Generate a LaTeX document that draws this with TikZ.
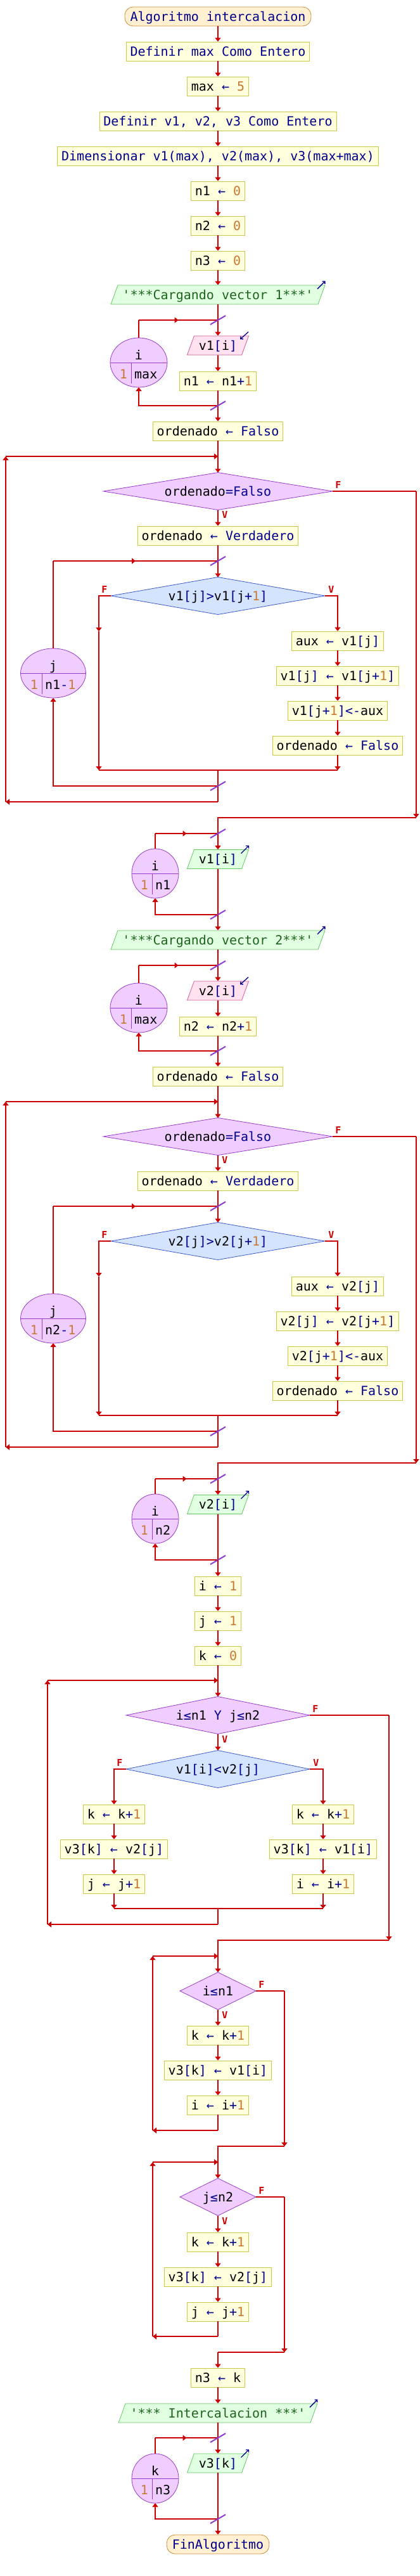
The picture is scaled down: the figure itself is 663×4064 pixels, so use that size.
\documentclass[tikz,border=0pt]{standalone}
\usepackage{fontspec}
\usepackage{xcolor}
\usetikzlibrary{arrows.meta,shapes.geometric,calc,decorations.markings}
\newfontfamily\flowfam{DejaVu Sans Mono}
\newcommand\flowfont{\flowfam\fontsize{20}{24}\selectfont}
\newcommand\lblfont{\flowfam\bfseries\fontsize{15}{18}\selectfont}
\definecolor{lred}{RGB}{204,0,0}
\definecolor{procb}{RGB}{200,200,70}
\definecolor{procf}{RGB}{255,255,221}
\definecolor{termb}{RGB}{204,140,60}
\definecolor{termf}{RGB}{255,240,210}
\definecolor{outb}{RGB}{100,200,100}
\definecolor{outf}{RGB}{225,255,225}
\definecolor{inb}{RGB}{210,90,150}
\definecolor{inf}{RGB}{255,225,240}
\definecolor{wdb}{RGB}{150,60,200}
\definecolor{wdf}{RGB}{240,205,255}
\definecolor{idb}{RGB}{60,90,200}
\definecolor{idf}{RGB}{212,228,255}
\definecolor{slc}{RGB}{140,60,210}
\definecolor{kwc}{RGB}{0,0,140}
\definecolor{numc}{RGB}{200,120,50}
\definecolor{strc}{RGB}{30,100,30}
\newcommand\Kw[1]{\textcolor{kwc}{#1}}
\newcommand\Nu[1]{\textcolor{numc}{#1}}
\newcommand\Sg[1]{\textcolor{strc}{#1}}
\newcommand\Ar{\textcolor{kwc}{←}}
\newcommand\Q{\textquotesingle}
\tikzset{
 ln/.style={draw=lred, color=lred, line width=2pt},
 ar/.style={ln, -{Triangle[width=9pt,length=6pt]}},
 midar/.style={ln, postaction={decorate}, decoration={markings, mark=at position 0.5 with {\arrow{Triangle[width=9pt,length=6pt]}}}},
 proc/.style={draw=procb, fill=procf, line width=0.8pt, font=\flowfont, text height=17.3pt, text depth=2.7pt, inner ysep=5pt, inner xsep=6.3pt, text=black},
 term/.style={proc, draw=termb, fill=termf, rounded corners=13pt, inner xsep=8.5pt},
 outp/.style={trapezium, trapezium left angle=70, trapezium right angle=110, draw=outb, fill=outf, line width=0.8pt, font=\flowfont, text height=17.3pt, text depth=2.7pt, inner ysep=5pt, inner xsep=7.5pt},
 inp/.style={outp, draw=inb, fill=inf},
 dtxt/.style={font=\flowfont, text height=17.3pt, text depth=2.7pt, inner sep=0pt},
 wdia/.style={draw=wdb, fill=wdf, line width=0.8pt},
 idia/.style={draw=idb, fill=idf, line width=0.8pt},
 loopc/.style={draw=wdb, fill=wdf, line width=0.8pt},
 sl/.style={draw=slc, line width=2pt},
 lbl/.style={font=\lblfont, text=lred, inner sep=0pt},
 oarr/.style={draw=kwc, line width=1.3pt, -{Straight Barb[length=3pt,width=6pt]}},
}
% diamond: name, cy, half width, style, text
\newcommand\dia[5]{%
 \path[#4] (344-#3,#2) coordinate (#1w) -- (344,#2-29.5) coordinate (#1n) -- (344+#3,#2) coordinate (#1e) -- (344,#2+29.5) coordinate (#1s) -- cycle;
 \node[dtxt] (#1) at (344,#2) {#5};}
% for circle: name, cx, cy, rx, divider x, var, from, to
\newcommand\forc[8]{%
 \path[loopc] (#2,#3) ellipse [x radius=#4, y radius=39];
 \draw[draw=wdb, line width=0.8pt] (#2-#4,#3) -- (#2+#4,#3) (#5,#3) -- (#5,#3+33);
 \node[dtxt] (#1) at (#2,#3-12) {#6};
 \node[dtxt, anchor=east] (#1a) at (#5-6,#3+18) {#7};
 \node[dtxt, anchor=west] (#1b) at (#5+5,#3+18) {#8};
 \coordinate (#1t) at (#2,#3-39);
 \coordinate (#1u) at (#2,#3+39);}
\newcommand\lcut[1]{\draw[sl] ($(#1)+(-12,7)$) -- ($(#1)+(12,-7)$);}
\newcommand\oarrow[1]{\draw[oarr] ($(#1.top right corner)+(-12.5,6.3)$) -- ($(#1.top right corner)+(0,-6.3)$);}
\newcommand\iarrow[1]{\draw[oarr] ($(#1.top right corner)+(-1,-6)$) -- ($(#1.top right corner)+(-14,5.7)$);}
\newcommand\sortblock[2]{%
\begin{scope}[shift={(0,#2)}]
\node[outp] (out#1) at (344,465) {\Sg{\Q***Cargando vector #1***\Q}};
\oarrow{out#1}
\coordinate (ja#1) at (344,505);
\node[inp] (in#1) at (344,545) {v#1\Kw{[}i\Kw{]}};
\iarrow{in#1}
\forc{fa#1}{219}{572}{45}{207}{i}{\Nu{1}}{max}
\node[proc] (inc#1) at (344,601) {n#1 \Ar{} n#1\Kw{+}\Nu{1}};
\coordinate (ea#1) at (344,640);
\node[proc] (of#1) at (344,680) {ordenado \Ar{} \Kw{Falso}};
\coordinate (w#1) at (344,720);
\dia{d#1}{775}{181}{wdia}{ordenado\Kw{=Falso}}
\node[proc] (ov#1) at (344,845) {ordenado \Ar{} \Kw{Verdadero}};
\coordinate (jb#1) at (344,885);
\dia{c#1}{940}{169}{idia}{v#1\Kw{[}j\Kw{]>}v#1\Kw{[}j\Kw{+}\Nu{1}\Kw{]}}
\node[proc] (aux#1) at (533,1011) {aux \Ar{} v#1\Kw{[}j\Kw{]}};
\node[proc] (sa#1) at (533,1066) {v#1\Kw{[}j\Kw{]} \Ar{} v#1\Kw{[}j\Kw{+}\Nu{1}\Kw{]}};
\node[proc] (sb#1) at (533,1121) {v#1\Kw{[}j\Kw{+}\Nu{1}\Kw{]<-}aux};
\node[proc] (sc#1) at (533,1176) {ordenado \Ar{} \Kw{Falso}};
\forc{fb#1}{84}{1062}{51.5}{66}{j}{\Nu{1}}{n#1\Kw{-}\Nu{1}}
\coordinate (cf#1) at (156,996);
\coordinate (ml#1) at (156,1215);
\coordinate (mr#1) at (533,1215);
\coordinate (m#1) at (344,1215);
\coordinate (eb#1) at (344,1240);
\coordinate (wb#1) at (344,1265);
\coordinate (wl#1) at (9,1265);
\coordinate (wt#1) at (9,720);
\coordinate (xr#1) at (657,775);
\coordinate (xb#1) at (657,1290);
\coordinate (xm#1) at (344,1290);
\coordinate (jc#1) at (344,1315);
\node[outp] (pv#1) at (344,1355.5) {v#1\Kw{[}i\Kw{]}};
\oarrow{pv#1}
\forc{fc#1}{245}{1378}{37}{240}{i}{\Nu{1}}{n#1}
\coordinate (ec#1) at (344,1443);
\draw[ln] (out#1) -- (ja#1);
\draw[ar] (ja#1) -- (in#1);
\draw[ar] (in#1) -- (inc#1);
\draw[ln] (inc#1) -- (ea#1);
\draw[ar] (ea#1) -| (fa#1u);
\draw[ln] (fa#1t) -- (fa#1t |- ja#1);
\draw[midar] (fa#1t |- ja#1) -- (ja#1);
\draw[ar] (ea#1) -- (of#1);
\draw[ln] (of#1) -- (w#1);
\draw[ar] (w#1) -- (d#1n);
\draw[ar] (d#1s) -- (ov#1);
\draw[ln] (ov#1) -- (jb#1);
\draw[ar] (jb#1) -- (c#1n);
\draw[ar] (c#1w) -| (cf#1);
\draw[ar] (cf#1) -- (ml#1);
\draw[ar] (c#1e) -| (aux#1);
\draw[ar] (aux#1) -- (sa#1);
\draw[ar] (sa#1) -- (sb#1);
\draw[ar] (sb#1) -- (sc#1);
\draw[ar] (sc#1) -- (mr#1);
\draw[ln] (ml#1) -- (mr#1);
\draw[ln] (m#1) -- (wb#1);
\draw[ar] (eb#1) -| (fb#1u);
\draw[ln] (fb#1t) -- (fb#1t |- jb#1);
\draw[midar] (fb#1t |- jb#1) -- (jb#1);
\draw[ar] (wb#1) -- (wl#1);
\draw[ar] (wl#1) -- (wt#1);
\draw[ar] (wt#1) -- (w#1);
\draw[ln] (d#1e) -- (xr#1);
\draw[ar] (xr#1) -- (xb#1);
\draw[ln] (xb#1) -- (xm#1) -- (jc#1);
\draw[ar] (jc#1) -- (pv#1);
\draw[ln] (pv#1) -- (ec#1);
\draw[ar] (ec#1) -| (fc#1u);
\draw[ln] (fc#1t) -- (fc#1t |- jc#1);
\draw[midar] (fc#1t |- jc#1) -- (jc#1);
\lcut{ja#1}\lcut{ea#1}\lcut{jb#1}\lcut{eb#1}\lcut{jc#1}\lcut{ec#1}
\node[lbl] (dF#1) at ($(d#1e)+(9,-10)$) {F};
\node[lbl] (dV#1) at ($(d#1s)+(11,8)$) {V};
\node[lbl] (cF#1) at ($(c#1w)+(-10,-10)$) {F};
\node[lbl] (cV#1) at ($(c#1e)+(10,-10)$) {V};
\end{scope}}
\begin{document}
\begin{tikzpicture}[x=1pt,y=-1pt]
\fill[white] (0,0) rectangle (663,4064);
\useasboundingbox (0,0) rectangle (663,4064);
\node[term] (start) at (344,26) {\Kw{Algoritmo intercalacion}};
\node[proc] (def1) at (344,81) {\Kw{Definir max Como Entero}};
\node[proc] (mx) at (344,136) {max \Ar{} \Nu{5}};
\node[proc] (def2) at (344,191) {\Kw{Definir v1, v2, v3 Como Entero}};
\node[proc] (dim) at (344,246) {\Kw{Dimensionar v1(max), v2(max), v3(max+max)}};
\node[proc] (na) at (344,301) {n1 \Ar{} \Nu{0}};
\node[proc] (nb) at (344,356) {n2 \Ar{} \Nu{0}};
\node[proc] (nc) at (344,411) {n3 \Ar{} \Nu{0}};
\draw[ar] (start) -- (def1);
\draw[ar] (def1) -- (mx);
\draw[ar] (mx) -- (def2);
\draw[ar] (def2) -- (dim);
\draw[ar] (dim) -- (na);
\draw[ar] (na) -- (nb);
\draw[ar] (nb) -- (nc);
\sortblock{1}{0}
\draw[ar] (nc) -- (out1);
\sortblock{2}{1018}
\draw[ar] (ec1) -- (out2);
% merge part
\node[proc] (i1) at (344,2502) {i \Ar{} \Nu{1}};
\node[proc] (j1) at (344,2557) {j \Ar{} \Nu{1}};
\node[proc] (k0) at (344,2612) {k \Ar{} \Nu{0}};
\coordinate (w3) at (344,2651);
\dia{d3}{2706}{145}{wdia}{i\Kw{≤}n1 \Kw{Y} j\Kw{≤}n2}
\dia{c3}{2791}{145}{idia}{v1\Kw{[}i\Kw{]<}v2\Kw{[}j\Kw{]}}
\node[proc] (kl) at (180,2862) {k \Ar{} k\Kw{+}\Nu{1}};
\node[proc] (vl) at (180,2917) {v3\Kw{[}k\Kw{]} \Ar{} v2\Kw{[}j\Kw{]}};
\node[proc] (jl) at (180,2972) {j \Ar{} j\Kw{+}\Nu{1}};
\node[proc] (kr) at (510,2862) {k \Ar{} k\Kw{+}\Nu{1}};
\node[proc] (vr) at (510,2917) {v3\Kw{[}k\Kw{]} \Ar{} v1\Kw{[}i\Kw{]}};
\node[proc] (ir) at (510,2972) {i \Ar{} i\Kw{+}\Nu{1}};
\coordinate (ml3) at (180,3011);
\coordinate (mr3) at (510,3011);
\coordinate (m3) at (344,3011);
\coordinate (wb3) at (344,3036);
\coordinate (wl3) at (75,3036);
\coordinate (wt3) at (75,2651);
\coordinate (xr3) at (614,2706);
\coordinate (xb3) at (614,3061);
\coordinate (xm3) at (344,3061);
\coordinate (w4) at (344,3086);
\dia{d4}{3141}{60}{wdia}{i\Kw{≤}n1}
\node[proc] (k4) at (344,3211) {k \Ar{} k\Kw{+}\Nu{1}};
\node[proc] (v4) at (344,3266) {v3\Kw{[}k\Kw{]} \Ar{} v1\Kw{[}i\Kw{]}};
\node[proc] (i4) at (344,3321) {i \Ar{} i\Kw{+}\Nu{1}};
\coordinate (wb4) at (344,3361);
\coordinate (wl4) at (241,3361);
\coordinate (wt4) at (241,3086);
\coordinate (xr4) at (449,3141);
\coordinate (xb4) at (449,3386);
\coordinate (xm4) at (344,3386);
\coordinate (w5) at (344,3411);
\dia{d5}{3466}{60}{wdia}{j\Kw{≤}n2}
\node[proc] (k5) at (344,3537) {k \Ar{} k\Kw{+}\Nu{1}};
\node[proc] (v5) at (344,3592) {v3\Kw{[}k\Kw{]} \Ar{} v2\Kw{[}j\Kw{]}};
\node[proc] (j5) at (344,3647) {j \Ar{} j\Kw{+}\Nu{1}};
\coordinate (wb5) at (344,3686);
\coordinate (wl5) at (241,3686);
\coordinate (wt5) at (241,3411);
\coordinate (xr5) at (449,3466);
\coordinate (xb5) at (449,3711);
\coordinate (xm5) at (344,3711);
\node[proc] (n3k) at (344,3751) {n3 \Ar{} k};
\node[outp] (out3) at (344,3807) {\Sg{\Q*** Intercalacion ***\Q}};
\oarrow{out3}
\coordinate (jk) at (344,3846);
\node[outp] (pv3) at (344,3886) {v3\Kw{[}k\Kw{]}};
\oarrow{pv3}
\forc{fk}{245}{3910}{37}{240}{k}{\Nu{1}}{n3}
\coordinate (ek) at (344,3974);
\node[term] (fin) at (344,4014) {\Kw{FinAlgoritmo}};
\draw[ar] (ec2) -- (i1);
\draw[ar] (i1) -- (j1);
\draw[ar] (j1) -- (k0);
\draw[ln] (k0) -- (w3);
\draw[ar] (w3) -- (d3n);
\draw[ar] (d3s) -- (c3n);
\draw[ar] (c3w) -| (kl);
\draw[ar] (c3e) -| (kr);
\draw[ar] (kl) -- (vl);
\draw[ar] (vl) -- (jl);
\draw[ar] (kr) -- (vr);
\draw[ar] (vr) -- (ir);
\draw[ar] (jl) -- (ml3);
\draw[ar] (ir) -- (mr3);
\draw[ln] (ml3) -- (mr3);
\draw[ln] (m3) -- (wb3);
\draw[ar] (wb3) -- (wl3);
\draw[ar] (wl3) -- (wt3);
\draw[ar] (wt3) -- (w3);
\draw[ln] (d3e) -- (xr3);
\draw[ar] (xr3) -- (xb3);
\draw[ln] (xb3) -- (xm3) -- (w4);
\draw[ar] (w4) -- (d4n);
\draw[ar] (d4s) -- (k4);
\draw[ar] (k4) -- (v4);
\draw[ar] (v4) -- (i4);
\draw[ln] (i4) -- (wb4);
\draw[ar] (wb4) -- (wl4);
\draw[ar] (wl4) -- (wt4);
\draw[ar] (wt4) -- (w4);
\draw[ln] (d4e) -- (xr4);
\draw[ar] (xr4) -- (xb4);
\draw[ln] (xb4) -- (xm4) -- (w5);
\draw[ar] (w5) -- (d5n);
\draw[ar] (d5s) -- (k5);
\draw[ar] (k5) -- (v5);
\draw[ar] (v5) -- (j5);
\draw[ln] (j5) -- (wb5);
\draw[ar] (wb5) -- (wl5);
\draw[ar] (wl5) -- (wt5);
\draw[ar] (wt5) -- (w5);
\draw[ln] (d5e) -- (xr5);
\draw[ar] (xr5) -- (xb5);
\draw[ln] (xb5) -- (xm5);
\draw[ar] (xm5) -- (n3k);
\draw[ar] (n3k) -- (out3);
\draw[ln] (out3) -- (jk);
\draw[ar] (jk) -- (pv3);
\draw[ln] (pv3) -- (ek);
\draw[ar] (ek) -| (fku);
\draw[ln] (fkt) -- (fkt |- jk);
\draw[midar] (fkt |- jk) -- (jk);
\draw[ar] (ek) -- (fin);
\lcut{jk}\lcut{ek}
\node[lbl] (dF3) at ($(d3e)+(9,-10)$) {F};
\node[lbl] (dV3) at ($(d3s)+(11,8)$) {V};
\node[lbl] (cF3) at ($(c3w)+(-10,-10)$) {F};
\node[lbl] (cV3) at ($(c3e)+(10,-10)$) {V};
\node[lbl] (dF4) at ($(d4e)+(9,-10)$) {F};
\node[lbl] (dV4) at ($(d4s)+(11,8)$) {V};
\node[lbl] (dF5) at ($(d5e)+(9,-10)$) {F};
\node[lbl] (dV5) at ($(d5s)+(11,8)$) {V};
\end{tikzpicture}
\end{document}
